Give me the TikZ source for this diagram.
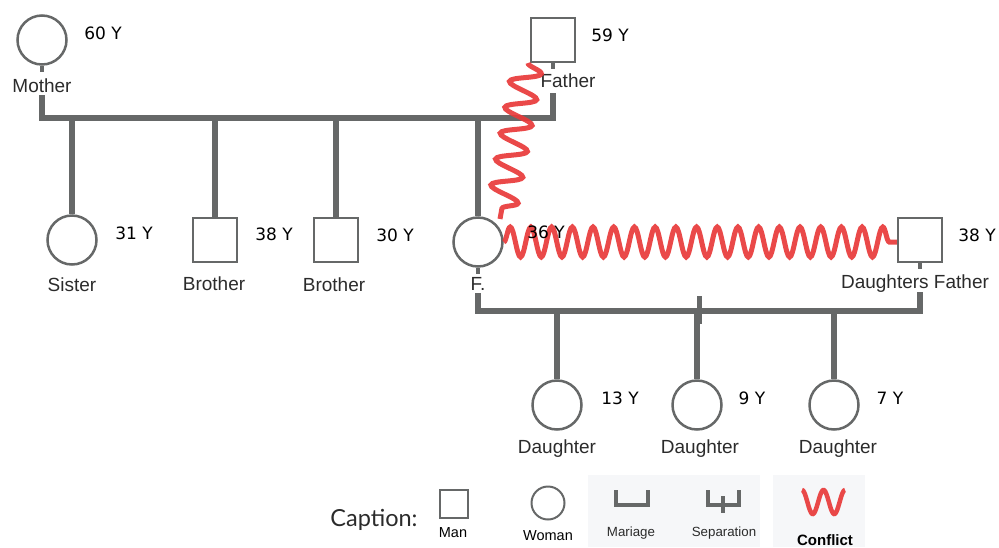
\documentclass[tikz,border=0pt]{standalone}
\usepackage{fontspec}
\setmainfont{Liberation Sans}
\newfontfamily\agefont{DejaVu Sans}
\newfontfamily\capfont{Lato}
\usetikzlibrary{decorations.pathmorphing}
\definecolor{kin}{HTML}{666868}
\definecolor{conf}{HTML}{E83A3A}
\definecolor{legbg}{HTML}{F6F7F9}
\definecolor{txt}{HTML}{2B2B2B}
\begin{document}
\begin{tikzpicture}[x=1pt,y=-1pt,
  woman/.style={circle, draw=kin, line width=2.5pt, minimum size=49pt, inner sep=0pt, fill=white},
  man/.style={rectangle, draw=kin, line width=2.5pt, minimum size=44pt, inner sep=0pt, fill=white},
  lbl/.style={font=\fontsize{19}{22}\selectfont, text=txt, anchor=base, inner sep=0pt},
  age/.style={font=\agefont\fontsize{17}{20}\selectfont, text=black, anchor=base, inner sep=0pt},
  small/.style={font=\fontsize{14.5}{17}\selectfont, text=black, anchor=base, inner sep=0pt},
  tiny/.style={font=\fontsize{13.3}{16}\selectfont, text=txt, anchor=base, inner sep=0pt},
  kinline/.style={draw=kin, line width=6pt},
  stub/.style={draw=kin, line width=4pt},
  conflict/.style={draw=conf, line width=5pt, opacity=0.92, decorate}
]
\useasboundingbox (0,0) rectangle (999,547);

% ---- persons ----
\node[woman] (mo) at (42,40) {};
\node[lbl] (mo-l) at (42,92) {Mother};
\node[age] (mo-y) at (103,39) {60 Y};
\node[man] (fa) at (553,40) {};
\node[lbl] (fa-l) at (568,87) {Father};
\node[age] (fa-y) at (610,41) {59 Y};

\node[woman] (si) at (72,240) {};
\node[lbl] (si-l) at (72,291) {Sister};
\node[age] (si-y) at (134,239) {31 Y};
\node[man] (b1) at (215,240) {};
\node[lbl] (b1-l) at (214,290) {Brother};
\node[age] (b1-y) at (274,240) {38 Y};
\node[man] (b2) at (336,240) {};
\node[lbl] (b2-l) at (334,291) {Brother};
\node[age] (b2-y) at (395,241) {30 Y};
\node[woman] (fp) at (478,242) {};
\node[lbl] (fp-l) at (478,290) {F.};
\node[man] (df) at (920,240) {};
\node[lbl] (df-l) at (915,288) {Daughters Father};
\node[age] (df-y) at (977,241) {38 Y};

\node[woman] (d1) at (557,405) {};
\node[lbl] (d1-l) at (557,453) {Daughter};
\node[age] (d1-y) at (620,404) {13 Y};
\node[woman] (d2) at (697,405) {};
\node[lbl] (d2-l) at (700,453) {Daughter};
\node[age] (d2-y) at (752,404) {9 Y};
\node[woman] (d3) at (834,405) {};
\node[lbl] (d3-l) at (838,453) {Daughter};
\node[age] (d3-y) at (890,404) {7 Y};

% ---- upper marriage ----
\coordinate (mo-a) at (42,95);
\coordinate (m-l) at (42,118);
\coordinate (m-r) at (553,118);
\coordinate (fa-a) at (553,93);
\draw[stub] (mo.south) -- ++(0,6);
\draw[stub] (fa.south) -- ++(0,6);
\draw[kinline] (mo-a) -- (m-l) -- (m-r) -- (fa-a);
\foreach \c in {si,b1,b2,fp}{
  \draw[kinline] (\c |- m-l) -- (\c.north);
}

% ---- lower marriage ----
\coordinate (fp-a) at (478,293);
\coordinate (n-l) at (478,311);
\coordinate (n-r) at (920,311);
\coordinate (df-a) at (920,292);
\coordinate (sep-t) at (699,296);
\coordinate (sep-b) at (699,324);
\draw[stub] (fp.south) -- ++(0,6);
\draw[stub] (df.south) -- ++(0,6);
\draw[kinline] (fp-a) -- (n-l) -- (n-r) -- (df-a);
\foreach \c in {d1,d2,d3}{
  \draw[kinline] (\c |- n-l) -- (\c.north);
}
\draw[draw=kin, line width=5pt] (sep-t) -- (sep-b);

% ---- conflicts ----
\coordinate (cf-s) at (528,63);
\coordinate (cf-e) at (500,219);
\draw[conflict, decoration={snake, segment length=26.3pt, amplitude=15pt}] (cf-s) -- (cf-e);
\draw[conflict, decoration={snake, segment length=20.7pt, amplitude=15pt}] (fp.east) -- (df.west |- fp.east);

% age of F. (over the conflict)
\node[age] (fp-y) at (546,238) {36 Y};

% ---- legend ----
\fill[legbg] (588,475) rectangle (760,547);
\fill[legbg] (773,475) rectangle (865,547);
\node[font=\capfont\fontsize{23.5}{27}\selectfont, text=txt, anchor=base, inner sep=0pt] (cap) at (374,526) {Caption:};
\node[man, minimum size=28pt, line width=2pt] (lm) at (454,504) {};
\node[small] (lm-l) at (453,537) {Man};
\node[woman, minimum size=33pt, line width=2pt] (lw) at (548,503) {};
\node[small] (lw-l) at (548,540) {Woman};
\coordinate (ma1) at (616,490);
\coordinate (ma2) at (616,505);
\coordinate (ma3) at (648,505);
\coordinate (ma4) at (648,490);
\draw[draw=kin, line width=3.5pt] (ma1) -- (ma2) -- (ma3) -- (ma4);
\node[tiny] (ma-l) at (631,536) {Mariage};
\coordinate (se1) at (708,490);
\coordinate (se2) at (708,505);
\coordinate (se3) at (739,505);
\coordinate (se4) at (739,490);
\coordinate (se5) at (723,496);
\coordinate (se6) at (723,513);
\draw[draw=kin, line width=3.5pt] (se1) -- (se2) -- (se3) -- (se4);
\draw[draw=kin, line width=3.5pt] (se5) -- (se6);
\node[tiny] (se-l) at (724,536) {Separation};
\draw[draw=conf, line width=4.5pt, opacity=0.92] plot[domain=0:2, samples=60, smooth] ({802+21.5*\x},{502-12*cos(360*\x)});
\node[font=\bfseries\fontsize{15}{18}\selectfont, text=black, anchor=base, inner sep=0pt] (co-l) at (825,545) {Conflict};
\end{tikzpicture}
\end{document}
